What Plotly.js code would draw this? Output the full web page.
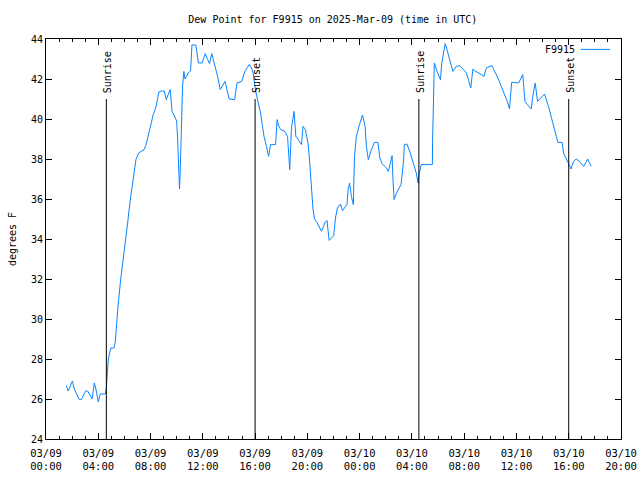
<!DOCTYPE html>
<html>
<head>
<meta charset="utf-8">
<script src="https://cdn.plot.ly/plotly-3.0.1.min.js"></script>
<style>html,body{margin:0;padding:0;background:#fff}#chart{width:640px;height:480px}</style>
</head>
<body>
<div id="chart"></div>
<script>
const times = [
"2025-03-09 01:33","2025-03-09 01:42","2025-03-09 02:01","2025-03-09 02:10","2025-03-09 02:33","2025-03-09 02:42",
"2025-03-09 03:02","2025-03-09 03:11","2025-03-09 03:32","2025-03-09 03:42","2025-03-09 03:51","2025-03-09 04:00",
"2025-03-09 04:09","2025-03-09 04:32","2025-03-09 04:37","2025-03-09 04:40","2025-03-09 04:46","2025-03-09 04:57",
"2025-03-09 05:12","2025-03-09 05:18","2025-03-09 05:24","2025-03-09 05:32","2025-03-09 05:43","2025-03-09 05:55",
"2025-03-09 06:07","2025-03-09 06:16","2025-03-09 06:25","2025-03-09 06:34","2025-03-09 06:44","2025-03-09 06:53",
"2025-03-09 07:05","2025-03-09 07:17","2025-03-09 07:30","2025-03-09 07:39","2025-03-09 07:49","2025-03-09 08:00",
"2025-03-09 08:12","2025-03-09 08:25","2025-03-09 08:38","2025-03-09 08:51","2025-03-09 09:03","2025-03-09 09:12",
"2025-03-09 09:21","2025-03-09 09:30","2025-03-09 09:39","2025-03-09 09:49","2025-03-09 10:00","2025-03-09 10:04",
"2025-03-09 10:09","2025-03-09 10:13","2025-03-09 10:16","2025-03-09 10:27","2025-03-09 10:33","2025-03-09 10:38",
"2025-03-09 10:45","2025-03-09 10:55","2025-03-09 11:04","2025-03-09 11:10","2025-03-09 11:28","2025-03-09 11:40",
"2025-03-09 11:57","2025-03-09 12:11","2025-03-09 12:22","2025-03-09 12:31","2025-03-09 12:41","2025-03-09 12:54",
"2025-03-09 13:08","2025-03-09 13:20","2025-03-09 13:32","2025-03-09 13:42","2025-03-09 14:01","2025-03-09 14:26",
"2025-03-09 14:37","2025-03-09 14:58","2025-03-09 15:13","2025-03-09 15:33","2025-03-09 15:44","2025-03-09 15:51",
"2025-03-09 16:03","2025-03-09 16:14","2025-03-09 16:25","2025-03-09 16:34","2025-03-09 16:41","2025-03-09 16:52",
"2025-03-09 17:02","2025-03-09 17:11","2025-03-09 17:34","2025-03-09 17:41","2025-03-09 17:49","2025-03-09 17:58",
"2025-03-09 18:16","2025-03-09 18:29","2025-03-09 18:36","2025-03-09 18:39","2025-03-09 18:47","2025-03-09 18:59",
"2025-03-09 19:07","2025-03-09 19:13","2025-03-09 19:33","2025-03-09 19:40","2025-03-09 19:51","2025-03-09 20:03",
"2025-03-09 20:11","2025-03-09 20:19","2025-03-09 20:26","2025-03-09 20:34","2025-03-09 20:44","2025-03-09 21:05",
"2025-03-09 21:20","2025-03-09 21:30","2025-03-09 21:40","2025-03-09 22:01","2025-03-09 22:09","2025-03-09 22:18",
"2025-03-09 22:32","2025-03-09 22:41","2025-03-09 23:02","2025-03-09 23:07","2025-03-09 23:14","2025-03-09 23:22",
"2025-03-09 23:31","2025-03-09 23:36","2025-03-09 23:45","2025-03-09 23:57","2025-03-10 00:13","2025-03-10 00:25",
"2025-03-10 00:31","2025-03-10 00:40","2025-03-10 00:54","2025-03-10 01:08","2025-03-10 01:24","2025-03-10 01:33",
"2025-03-10 01:43","2025-03-10 02:03","2025-03-10 02:12","2025-03-10 02:21","2025-03-10 02:29","2025-03-10 02:33",
"2025-03-10 02:38","2025-03-10 02:49","2025-03-10 03:10","2025-03-10 03:16","2025-03-10 03:22","2025-03-10 03:25",
"2025-03-10 03:37","2025-03-10 03:50","2025-03-10 04:05","2025-03-10 04:20","2025-03-10 04:28","2025-03-10 04:32",
"2025-03-10 04:43","2025-03-10 05:34","2025-03-10 05:35","2025-03-10 05:40","2025-03-10 05:43","2025-03-10 05:55",
"2025-03-10 06:04","2025-03-10 06:11","2025-03-10 06:17","2025-03-10 06:24","2025-03-10 06:33","2025-03-10 06:41",
"2025-03-10 06:56","2025-03-10 07:08","2025-03-10 07:24","2025-03-10 07:39","2025-03-10 07:54","2025-03-10 08:10",
"2025-03-10 08:22","2025-03-10 08:30","2025-03-10 08:40","2025-03-10 08:51","2025-03-10 09:03","2025-03-10 09:19",
"2025-03-10 09:31","2025-03-10 09:42","2025-03-10 09:57","2025-03-10 10:07","2025-03-10 10:20","2025-03-10 10:35",
"2025-03-10 10:50","2025-03-10 11:05","2025-03-10 11:18","2025-03-10 11:28","2025-03-10 11:38","2025-03-10 11:51",
"2025-03-10 12:10","2025-03-10 12:29","2025-03-10 12:39","2025-03-10 12:50","2025-03-10 13:08","2025-03-10 13:15",
"2025-03-10 13:22","2025-03-10 13:26","2025-03-10 13:37","2025-03-10 13:54","2025-03-10 14:09","2025-03-10 14:27",
"2025-03-10 14:40","2025-03-10 14:52","2025-03-10 15:03","2025-03-10 15:10","2025-03-10 15:30","2025-03-10 15:36",
"2025-03-10 15:44","2025-03-10 15:54","2025-03-10 16:11","2025-03-10 16:22","2025-03-10 16:34","2025-03-10 16:49",
"2025-03-10 17:09","2025-03-10 17:27","2025-03-10 17:43"
];
const dewPoint = [
26.67,26.4,26.9,26.5,25.97,25.97,
26.4,26.4,26.0,26.8,26.4,25.85,
26.25,26.25,26.55,27.3,28.0,28.55,
28.55,28.83,29.8,30.8,32.0,33.0,
34.0,34.9,35.8,36.55,37.3,37.97,
38.3,38.4,38.47,38.7,39.13,39.6,
40.2,40.6,41.35,41.4,41.4,40.97,
41.2,41.47,40.38,40.17,39.9,39.05,
37.3,36.5,37.3,41.63,42.38,42.0,
42.13,42.33,42.4,43.7,43.7,42.8,
42.8,43.27,42.97,42.77,43.27,42.72,
42.13,41.47,41.72,41.88,41.0,40.97,
41.8,41.88,42.38,42.72,42.55,42.3,
41.38,40.88,40.3,39.63,39.13,38.63,
38.13,38.72,38.72,39.97,39.63,39.47,
39.38,39.13,37.8,37.47,39.55,40.38,
39.13,39.05,38.72,39.63,39.47,38.8,
37.8,36.63,35.47,34.97,34.83,34.38,
34.8,34.93,33.93,34.17,35.05,35.55,
35.75,35.42,35.72,36.47,36.8,36.13,
35.72,38.05,39.13,39.63,40.2,39.63,
38.63,37.97,38.47,38.83,38.83,38.05,
37.77,37.55,37.38,37.8,38.17,36.97,
35.97,36.3,36.72,37.3,37.97,38.72,
38.75,38.38,37.8,37.3,36.8,37.2,
37.72,37.72,38.97,41.47,42.8,42.38,
42.13,41.97,42.8,43.3,43.77,43.47,
42.8,42.38,42.63,42.67,42.5,42.3,
41.88,41.55,42.5,42.38,42.33,42.22,
42.13,42.55,42.63,42.67,42.38,42.05,
41.63,41.22,40.88,40.5,41.83,41.83,
41.8,42.22,40.88,40.72,40.5,41.13,
41.55,41.8,40.88,41.05,41.25,40.63,
40.13,39.63,39.13,38.83,38.83,38.3,
38.13,37.88,37.5,37.88,38.0,37.88,
37.63,38.0,37.63
];
const sunTimes = ["2025-03-09 04:37","2025-03-09 16:00","2025-03-10 04:32","2025-03-10 16:00"];
const sunLabels = ["Sunrise","Sunset","Sunrise","Sunset"];
const sunLineTop = 41;
const seriesName = "F9915";
const xRange = ["2025-03-09 00:00","2025-03-10 20:00"];
const yRange = [24, 44];

const FONT = "DejaVu Sans Mono, Liberation Mono, monospace";
const LINECOLOR = "#0a84ff";

const trace = {
  x: times, y: dewPoint, type: "scatter", mode: "lines",
  name: seriesName, line: {color: LINECOLOR, width: 1}, showlegend: false,
  hoverinfo: "skip"
};

const shapes = sunTimes.map(t => ({
  type: "line", xref: "x", yref: "y", x0: t, x1: t, y0: yRange[0], y1: sunLineTop,
  line: {color: "black", width: 1}
}));
shapes.push({type: "line", xref: "paper", yref: "paper", x0: 0.930, x1: 0.981, y0: 0.974, y1: 0.974,
  line: {color: LINECOLOR, width: 1}});

const annotations = sunTimes.map((t, i) => ({
  x: t, y: sunLineTop, xref: "x", yref: "y", text: sunLabels[i], textangle: -90,
  showarrow: false, xanchor: "center", yanchor: "bottom", yshift: 4, xshift: 1,
  font: {family: FONT, size: 10, color: "black"}
}));
annotations.push({x: 0.9235, y: 0.974, xref: "paper", yref: "paper", text: seriesName,
  showarrow: false, xanchor: "right", yanchor: "middle",
  font: {family: FONT, size: 10, color: "black"}});

const layout = {
  width: 640, height: 480,
  margin: {l: 46, r: 19, t: 39, b: 41, pad: 0},
  paper_bgcolor: "white", plot_bgcolor: "white",
  font: {family: FONT, size: 10, color: "black"},
  title: {text: "Dew Point for F9915 on 2025-Mar-09 (time in UTC)", x: 0.52, xanchor: "center", y: 0.96, yanchor: "middle",
    font: {family: FONT, size: 10, color: "black"}},
  xaxis: {
    type: "date", range: xRange, tick0: "2025-03-09 00:00", dtick: 14400000,
    tickformat: "%m/%d<br>%H:%M", ticks: "inside", ticklen: 6, tickcolor: "black",
    ticklabelstandoff: 4,
    minor: {dtick: 3600000, ticks: "inside", ticklen: 3, tickcolor: "black", showgrid: false},
    showgrid: false, zeroline: false, showline: true, linecolor: "black", linewidth: 1, mirror: "ticks",
    tickfont: {family: FONT, size: 10.5, color: "black"}, fixedrange: true
  },
  yaxis: {
    range: yRange, dtick: 2, tick0: 24, ticks: "inside", ticklen: 6, tickcolor: "black",
    showgrid: false, zeroline: false, showline: true, linecolor: "black", linewidth: 1, mirror: "ticks",
    tickfont: {family: FONT, size: 10, color: "black"},
    title: {text: "degrees F", font: {family: FONT, size: 10, color: "black"}, standoff: 12},
    fixedrange: true
  },
  shapes: shapes, annotations: annotations, showlegend: false
};

Plotly.newPlot("chart", [trace], layout, {staticPlot: true, displayModeBar: false});
</script>
</body>
</html>
